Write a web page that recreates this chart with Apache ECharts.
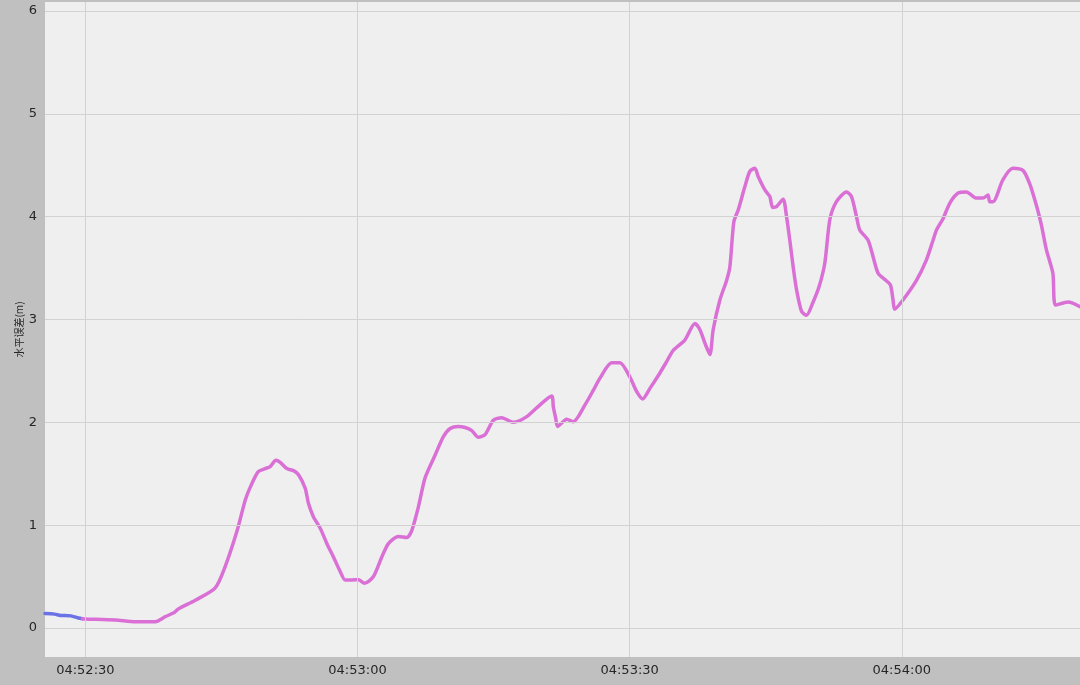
<!DOCTYPE html>
<html>
<head>
<meta charset="utf-8">
<script src="https://cdn.jsdelivr.net/npm/echarts@6/dist/echarts.min.js"></script>
<style>
html,body{margin:0;padding:0;background:#c0c0c0;}
#chart{width:1080px;height:685px;}
</style>
</head>
<body>
<div id="chart"></div>
<script>
// seconds relative to 04:52:30
const xTickSeconds = [0, 30, 60, 90];
const xTickLabels = ['04:52:30', '04:53:00', '04:53:30', '04:54:00'];
const yTickValues = [0, 1, 2, 3, 4, 5, 6];
const yAxisName = '水平误差(m)';

const blueT = [-4.45, -3.4, -2.75, -1.6, -0.77, -0.33];
const blueV = [0.14, 0.135, 0.122, 0.118, 0.097, 0.09];

const pinkT = [-0.33, 0, 3.30, 5.51, 7.71, 8.81, 9.80, 10.24, 12.12, 14.32, 15.42, 16.74, 17.63, 18.18, 19.06, 19.83,
  20.38, 21.01, 21.48, 22.22, 22.95, 23.50, 24.23, 24.60, 25.15, 25.89, 26.63, 27.35, 28.09, 28.64, 29.38,
  30.11, 30.77, 31.76, 32.68, 33.41, 34.51, 35.44, 35.99, 36.72, 37.45, 38.55, 39.47, 40.21, 41.12, 41.86,
  42.60, 43.32, 44.06, 44.98, 45.90, 47.18, 48.66, 50.12, 51.41, 51.59, 51.85, 52.07, 53.06, 53.79, 55.08,
  55.99, 56.73, 58.02, 58.93, 60.03, 60.77, 61.43, 62.24, 63.34, 64.08, 64.81, 66.09, 67.20, 67.75, 68.30,
  68.85, 69.21, 69.95, 70.69, 71.05, 71.49, 71.97, 72.70, 73.25, 73.81, 74.17, 74.91, 75.46, 75.76, 76.20,
  76.92, 77.30, 77.66, 78.03, 78.40, 78.95, 79.50, 80.23, 80.89, 81.52, 82.07, 82.80, 83.91, 84.46, 85.01,
  85.37, 86.29, 86.84, 87.39, 88.12, 88.75, 89.04, 89.22, 90.14, 91.62, 92.72, 93.45, 93.83, 94.55, 95.29,
  96.21, 97.13, 98.23, 98.96, 99.51, 99.70, 100.06, 101.16, 102.26, 103.36, 104.10, 104.84, 105.39, 105.94,
  106.66, 106.96, 108.33, 109.65];
const pinkV = [0.09, 0.088, 0.078, 0.061, 0.061, 0.11, 0.15, 0.185, 0.27, 0.39, 0.60, 0.95, 1.245, 1.37, 1.52, 1.55,
  1.57, 1.63, 1.61, 1.55, 1.53, 1.49, 1.36, 1.21, 1.08, 0.97, 0.82, 0.69, 0.55, 0.467, 0.467,
  0.47, 0.435, 0.50, 0.69, 0.82, 0.89, 0.88, 0.95, 1.18, 1.46, 1.68, 1.86, 1.94, 1.96, 1.95,
  1.92, 1.855, 1.88, 2.02, 2.045, 2.0, 2.055, 2.17, 2.256, 2.15, 2.04, 1.96, 2.03, 2.006, 2.17,
  2.31, 2.43, 2.58, 2.58, 2.44, 2.30, 2.227, 2.33, 2.48, 2.59, 2.70, 2.80, 2.96, 2.90, 2.77,
  2.66, 2.90, 3.19, 3.38, 3.51, 3.95, 4.065, 4.29, 4.44, 4.47, 4.39, 4.26, 4.195, 4.09, 4.097,
  4.17, 4.0, 3.77, 3.51, 3.29, 3.08, 3.04, 3.17, 3.32, 3.55, 3.97, 4.145, 4.24, 4.195, 4.0,
  3.87, 3.77, 3.61, 3.45, 3.39, 3.335, 3.19, 3.10, 3.19, 3.38, 3.58, 3.77, 3.87, 3.98, 4.13,
  4.23, 4.24, 4.18, 4.18, 4.21, 4.145, 4.145, 4.36, 4.47, 4.45, 4.32, 4.11, 3.92, 3.68,
  3.45, 3.14, 3.17, 3.125];

const zip = (a, b) => a.map((t, i) => [t, b[i]]);
const gridLines = [].concat(
  xTickSeconds.map(v => ({ xAxis: v })),
  yTickValues.map(v => ({ yAxis: v }))
);

const chart = echarts.init(document.getElementById('chart'), null, { renderer: 'canvas' });
const font = 'DejaVu Sans';
chart.setOption({
  backgroundColor: '#c0c0c0',
  animation: false,
  grid: {
    left: 45, right: 0, top: 2, bottom: 28,
    show: true, backgroundColor: '#efefef', borderWidth: 0
  },
  xAxis: {
    type: 'value',
    min: -4.45, max: 109.65,
    axisLine: { show: false },
    splitLine: { show: false },
    axisTick: { show: true, length: 4, lineStyle: { color: '#333' }, customValues: xTickSeconds },
    axisLabel: {
      customValues: xTickSeconds,
      color: '#262626', fontFamily: font, fontSize: 13, margin: 7,
      formatter: v => xTickLabels[xTickSeconds.indexOf(Math.round(v))] || ''
    }
  },
  yAxis: {
    type: 'value',
    min: -0.282, max: 6.087,
    name: yAxisName,
    nameLocation: 'middle',
    nameRotate: 90,
    nameGap: 21,
    nameMoveOverlap: false,
    nameTextStyle: { fontFamily: 'Noto Sans CJK SC', fontSize: 10, color: '#262626' },
    axisLine: { show: false },
    splitLine: { show: false },
    axisTick: { show: true, length: 5, lineStyle: { color: '#333' }, customValues: yTickValues },
    axisLabel: {
      customValues: yTickValues,
      color: '#262626', fontFamily: font, fontSize: 13, margin: 8,
      formatter: v => String(Math.round(v))
    }
  },
  series: [
    {
      type: 'line', z: 1, silent: true,
      data: [[0, 0]], showSymbol: false, symbol: 'none',
      lineStyle: { opacity: 0 },
      markLine: {
        silent: true, symbol: ['none', 'none'], animation: false,
        label: { show: false },
        lineStyle: { color: '#d2d2d2', type: 'solid', width: 1 },
        data: gridLines
      }
    },
    {
      type: 'line', z: 3, symbol: 'none', smooth: 0.25,
      data: zip(blueT, blueV),
      lineStyle: { color: '#6b72e6', width: 3.5, cap: 'round', join: 'round' }
    },
    {
      type: 'line', z: 4, symbol: 'none', smooth: 0.25,
      data: zip(pinkT, pinkV),
      lineStyle: { color: '#da70d6', width: 3.5, cap: 'round', join: 'round' }
    }
  ]
});
</script>
</body>
</html>
